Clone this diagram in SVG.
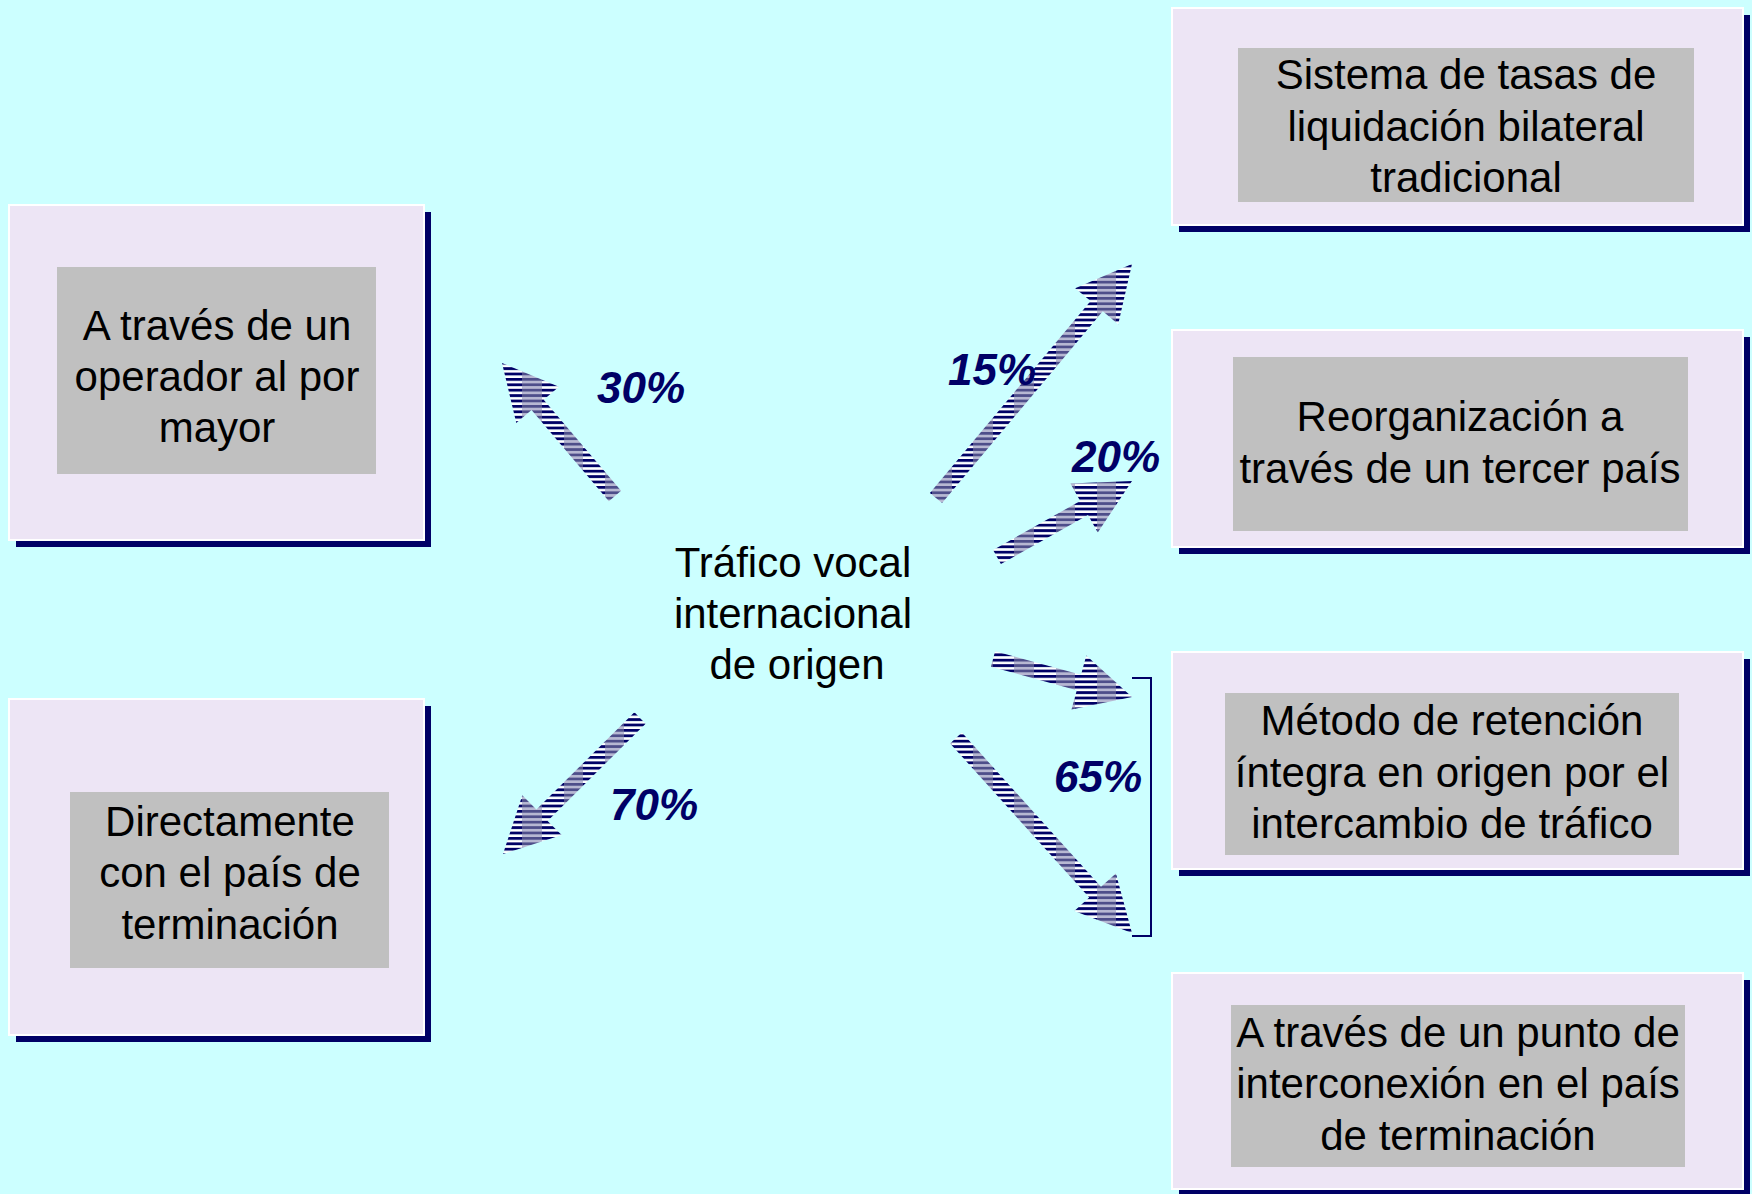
<svg xmlns="http://www.w3.org/2000/svg" width="1752" height="1194" viewBox="0 0 1752 1194">
<style>
.bg{fill:#CCFFFF}
.shadow{fill:#000066}
.box{fill:#EDE5F5;stroke:#FFFFFF;stroke-width:2}
.inner{fill:#C0C0C0}
.t{font-family:"Liberation Sans",Arial,sans-serif;font-size:42px;fill:#000000;text-anchor:middle}
.pct{font-family:"Liberation Sans",Arial,sans-serif;font-size:44px;font-weight:bold;font-style:italic;fill:#000066}
.arrow{fill:url(#stripes)}
.bracket{fill:none;stroke:#000066;stroke-width:2}
</style>
<defs>
<pattern id="stripes" patternUnits="userSpaceOnUse" x="522" y="0" width="41" height="5.4">
<rect x="0" y="0" width="41" height="3" fill="#000066"/>
<rect x="0" y="3" width="41" height="2.4" fill="#FFFFFF"/>
<rect x="0" y="0" width="20" height="3" fill="#4E4E8A"/>
<rect x="0" y="3" width="20" height="2.4" fill="#B8B8D2"/>
</pattern>
</defs>
<rect class="bg" x="0" y="0" width="1752" height="1194"/>

<g id="node-mayor">
<rect class="shadow" x="16" y="212" width="415" height="335"/>
<rect class="box" x="9" y="205" width="415" height="335"/>
<rect class="inner" x="57" y="267" width="319" height="207"/>
<text class="t" x="217" y="340">A través de un</text>
<text class="t" x="217" y="391">operador al por</text>
<text class="t" x="217" y="442">mayor</text>
</g>

<g id="node-directo">
<rect class="shadow" x="16" y="706" width="415" height="336"/>
<rect class="box" x="9" y="699" width="415" height="336"/>
<rect class="inner" x="70" y="792" width="319" height="176"/>
<text class="t" x="230" y="836">Directamente</text>
<text class="t" x="230" y="887">con el país de</text>
<text class="t" x="230" y="939">terminación</text>
</g>

<g id="node-origen">
<text class="t" x="793" y="577">Tráfico vocal</text>
<text class="t" x="793" y="628">internacional</text>
<text class="t" x="797" y="679">de origen</text>
</g>

<g id="node-bilateral">
<rect class="shadow" x="1179" y="15" width="571" height="217"/>
<rect class="box" x="1172" y="8" width="571" height="217"/>
<rect class="inner" x="1238" y="48" width="456" height="154"/>
<text class="t" x="1466" y="89">Sistema de tasas de</text>
<text class="t" x="1466" y="141">liquidación bilateral</text>
<text class="t" x="1466" y="192">tradicional</text>
</g>

<g id="node-tercer">
<rect class="shadow" x="1179" y="337" width="571" height="217"/>
<rect class="box" x="1172" y="330" width="571" height="217"/>
<rect class="inner" x="1233" y="357" width="455" height="174"/>
<text class="t" x="1460" y="431">Reorganización a</text>
<text class="t" x="1460" y="483">través de un tercer país</text>
</g>

<g id="node-retencion">
<rect class="shadow" x="1179" y="659" width="571" height="217"/>
<rect class="box" x="1172" y="652" width="571" height="217"/>
<rect class="inner" x="1225" y="693" width="454" height="162"/>
<text class="t" x="1452" y="735">Método de retención</text>
<text class="t" x="1452" y="787">íntegra en origen por el</text>
<text class="t" x="1452" y="838">intercambio de tráfico</text>
</g>

<g id="node-interconexion">
<rect class="shadow" x="1179" y="980" width="571" height="216"/>
<rect class="box" x="1172" y="973" width="571" height="216"/>
<rect class="inner" x="1231" y="1005" width="454" height="162"/>
<text class="t" x="1458" y="1047">A través de un punto de</text>
<text class="t" x="1458" y="1098">interconexión en el país</text>
<text class="t" x="1458" y="1150">de terminación</text>
</g>

<g id="connectors">
<polygon class="arrow" points="621.1,490.8 543.7,399.7 558.9,386.8 502,363 516.3,423.0 531.5,410.1 608.9,501.2"/>
<polygon class="arrow" points="634.4,712.3 536.4,809.5 522.3,795.3 503,854 561.7,835.1 547.6,820.9 645.6,723.7"/>
<polygon class="arrow" points="942.1,503.1 1102.8,311.3 1118.2,324.2 1132,264 1075.2,288.2 1090.6,301.1 929.9,492.9"/>
<polygon class="arrow" points="1000.9,564.0 1088.0,515.0 1097.8,532.4 1132,481 1070.4,483.6 1080.2,501.0 993.1,550.0"/>
<polygon class="arrow" points="990.9,666.7 1076.8,690.2 1071.5,709.5 1132,697 1086.3,655.5 1081.0,674.8 995.1,651.3"/>
<polygon class="arrow" points="950.1,743.4 1089.2,897.6 1074.3,911.0 1132,933 1115.9,873.4 1101.0,886.8 961.9,732.6"/>
<path class="bracket" d="M1132,678 H1151 V936 H1132"/>
<text class="pct" x="597" y="403">30%</text>
<text class="pct" x="948" y="385">15%</text>
<text class="pct" x="1072" y="472">20%</text>
<text class="pct" x="1054" y="792">65%</text>
<text class="pct" x="610" y="820">70%</text>
</g>
</svg>
